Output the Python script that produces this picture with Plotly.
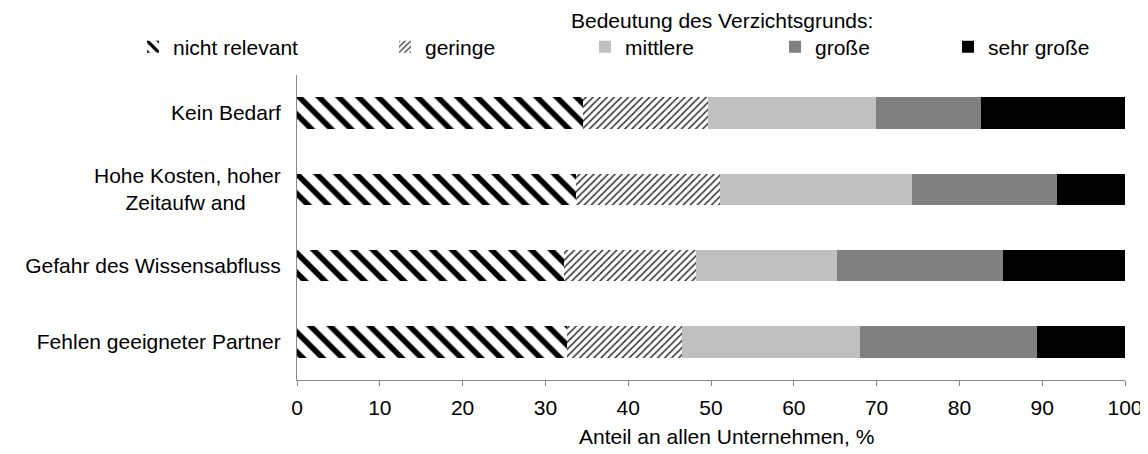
import plotly.graph_objects as go

categories = ["Kein Bedarf",
              "Hohe Kosten, hoher<br>Zeitaufw and" + "\u00a0" * 6,
              "Gefahr des Wissensabfluss",
              "Fehlen geeigneter Partner"]
series_names = ["nicht relevant", "geringe", "mittlere", "große", "sehr große"]
nicht_relevant = [34.5, 33.7, 32.2, 32.6]
geringe = [15.1, 17.4, 16.0, 13.9]
mittlere = [20.3, 23.2, 17.0, 21.5]
grosse = [12.7, 17.5, 20.1, 21.4]
sehr_grosse = [17.4, 8.2, 14.7, 10.6]
x_ticks = [0, 10, 20, 30, 40, 50, 60, 70, 80, 90, 100]
legend_title = "Bedeutung des Verzichtsgrunds:"
x_title = "Anteil an allen Unternehmen, %"

series_values = [nicht_relevant, geringe, mittlere, grosse, sehr_grosse]
styles = [
    dict(color="white", pattern=dict(shape="\\", size=14, solidity=0.4, fgcolor="black",
                                     bgcolor="white", fgopacity=1)),
    dict(color="white", pattern=dict(shape="/", size=5, solidity=0.3, fgcolor="#333333",
                                     bgcolor="white", fgopacity=1)),
    dict(color="#C0C0C0"),
    dict(color="#808080"),
    dict(color="#000000"),
]

# page geometry: the browser body adds an 8px margin around the figure
OFF = 8
VW, VH = 1148, 454
W, H = VW - OFF, VH - OFF
# plot area in screen pixels
L, R, T, B = 297, 1125, 75, 380
def px_x(p):
    return (p - L) / (R - L)
def px_y(p):
    return (B - p) / (B - T)

legend_x_px = [133, 385, 585, 775, 948]
legend_ids = ["legend", "legend2", "legend3", "legend4", "legend5"]

font = "Liberation Sans, Arial, sans-serif"
FS = 21

fig = go.Figure()
for name, vals, st, lid in zip(series_names, series_values, styles, legend_ids):
    fig.add_trace(go.Bar(
        y=categories, x=vals, name=name, orientation="h", legend=lid,
        marker=dict(line=dict(width=0), **st),
    ))

layout_legends = {}
for lid, lx in zip(legend_ids, legend_x_px):
    layout_legends[lid] = dict(
        orientation="h", xref="paper", yref="paper",
        x=px_x(lx), y=px_y(47), xanchor="left", yanchor="middle",
        font=dict(family=font, size=FS, color="black"),
        bgcolor="rgba(0,0,0,0)", borderwidth=0,
    )

fig.update_layout(
    template="none",
    barmode="stack",
    bargap=0.59,
    width=W, height=H,
    margin=dict(l=L - OFF, r=W - (R - OFF), t=T - OFF, b=H - (B - OFF), pad=0),
    plot_bgcolor="white", paper_bgcolor="white",
    font=dict(family=font, size=FS, color="black"),
    showlegend=True,
    xaxis=dict(
        range=[0, 100], tickvals=x_ticks, ticks="outside", ticklen=5, tickwidth=1,
        tickcolor="#888888", showline=True, linecolor="#888888", linewidth=1,
        showgrid=False, zeroline=False, automargin=False, ticklabelstandoff=4,
        tickfont=dict(size=FS),
    ),
    yaxis=dict(
        autorange="reversed", showline=True, linecolor="#888888", linewidth=1,
        ticks="", ticklabelstandoff=11, showgrid=False, zeroline=False, automargin=False,
        tickfont=dict(size=FS),
    ),
    annotations=[
        dict(text=legend_title, xref="paper", yref="paper", x=px_x(722), y=px_y(20),
             xanchor="center", yanchor="middle", showarrow=False,
             font=dict(family=font, size=FS, color="black")),
        dict(text=x_title, xref="paper", yref="paper", x=px_x(726), y=px_y(437),
             xanchor="center", yanchor="middle", showarrow=False,
             font=dict(family=font, size=FS, color="black")),
    ],
    **layout_legends,
)

fig.write_html("out.html")
